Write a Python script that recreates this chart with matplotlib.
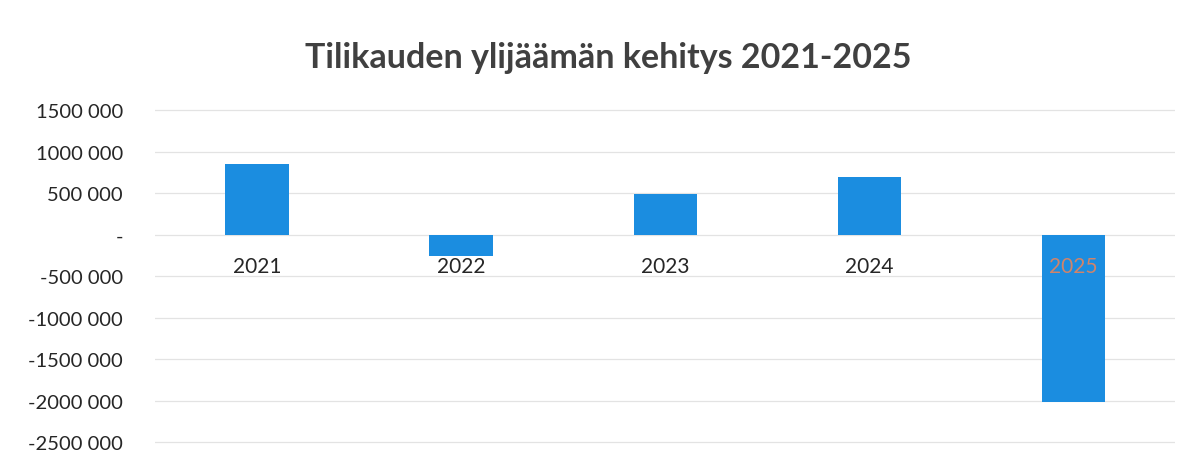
import matplotlib
matplotlib.use("Agg")
import matplotlib.pyplot as plt
from matplotlib.ticker import FuncFormatter

plt.rcParams.update({
    "font.family": ["Lato", "DejaVu Sans"],
    "font.size": 12,
})

years = ["2021", "2022", "2023", "2024", "2025"]
surplus = [850000, -262000, 492000, 693000, -2012000]
yticks = [-2500000, -2000000, -1500000, -1000000, -500000, 0, 500000, 1000000, 1500000]

BAR = "#1b8de0"
GRID = "#e3e3e3"
TEXT = "#262626"


def fmt(v, pos):
    if v == 0:
        return "-"
    s = f"{abs(v):.0f}"
    s = s[:-3] + " " + s[-3:]
    return ("-" if v < 0 else "") + s


fig = plt.figure(figsize=(11.92, 4.64), dpi=100)
ax = fig.add_axes([0.130, 0.034, 0.856, 0.730])

x = range(len(years))
ax.bar(list(x), surplus, width=0.31, color=BAR, zorder=2)

ax.set_xlim(-0.5, len(years) - 0.5)
ax.set_ylim(-2560000, 1520000)
ax.set_yticks(yticks)
ax.yaxis.set_major_formatter(FuncFormatter(fmt))
ax.tick_params(axis="y", length=0, pad=23, labelsize=14.5, labelcolor=TEXT)
ax.set_xticks([])
ax.grid(axis="y", color=GRID, linewidth=0.9, zorder=0)
for sp in ax.spines.values():
    sp.set_visible(False)

# category labels sit just below the zero line, like in the spreadsheet chart
for i, yr in enumerate(years):
    col = "#d0846a" if surplus[i] < -1000000 else TEXT
    ax.text(i, -380000, yr, ha="center", va="center", fontsize=15,
            color=col, zorder=3)

fig.text(0.510, 0.876, "Tilikauden ylijäämän kehitys 2021-2025",
         ha="center", va="center", fontsize=24.5, fontweight="bold", color="#404040")

fig.savefig("out.png", dpi=100)
